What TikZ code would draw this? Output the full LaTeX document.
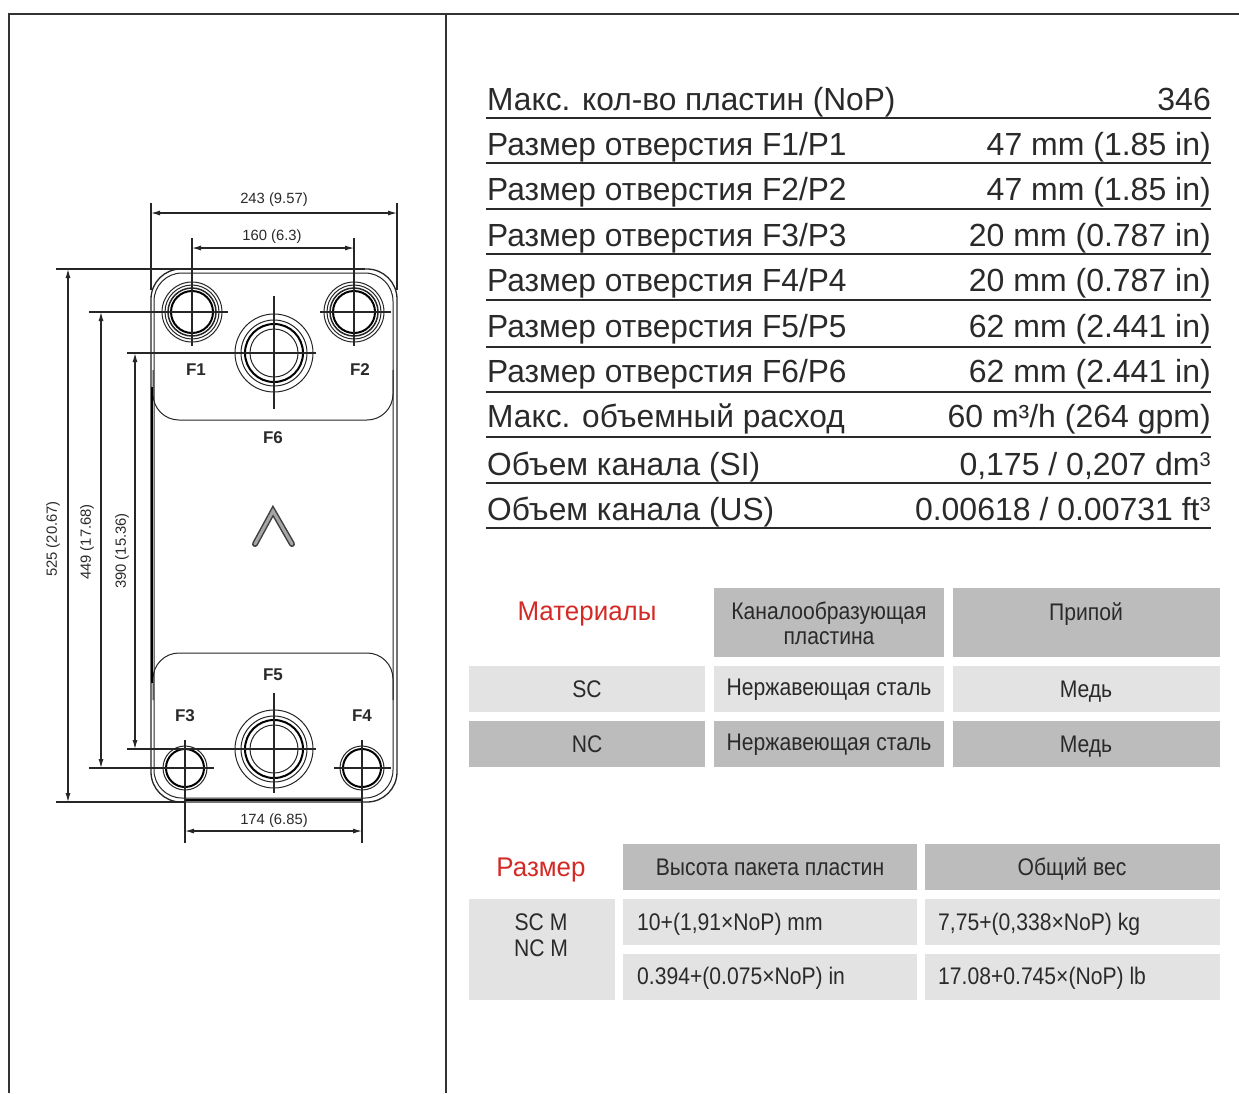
\documentclass[tikz,border=0pt]{standalone}
\usepackage{fontspec}
\usepackage{graphicx}
\setmainfont{Liberation Sans}
\usetikzlibrary{arrows.meta}
\definecolor{ink}{HTML}{2A2A2A}
\definecolor{cellD}{HTML}{BCBCBC}
\definecolor{cellL}{HTML}{E3E3E3}
\definecolor{redt}{HTML}{D42A26}
\newcommand{\nrw}[1]{\scalebox{.88}[1]{#1}}
\newcommand{\nrr}[1]{\scalebox{.96}[1]{#1}}
\newcommand{\spw}[1]{\scalebox{.99}[1]{#1}}
\newcommand{\cub}{\raisebox{9pt}{\fontsize{20}{20}\selectfont 3}}
\tikzset{
 x=1pt,y=-1pt,
 spec/.style={font=\fontsize{32}{32}\selectfont,text=ink,inner sep=0pt,anchor=base west},
 specr/.style={font=\fontsize{32}{32}\selectfont,text=ink,inner sep=0pt,anchor=base east},
 rule/.style={draw=ink,line width=1.8pt},
 frameln/.style={draw=black!80,line width=1.3pt},
 dwg/.style={draw=black!85,line width=1pt},
 dwgt/.style={draw=black,line width=2pt},
 dim/.style={draw=black!85,line width=1.1pt},
 dimarr/.style={dim,{Latex[length=9pt,width=5pt]}-{Latex[length=9pt,width=5pt]}},
 dimtxt/.style={font=\fontsize{14.8}{15}\selectfont,text=ink,inner sep=0pt},
 port/.style={font=\bfseries\fontsize{17}{17}\selectfont,text=ink,inner sep=0pt},
 cell/.style={font=\fontsize{24}{26}\selectfont,text=ink,inner sep=0pt,anchor=base},
 cellw/.style={cell,anchor=base west},
 redcell/.style={cell,text=redt,font=\fontsize{27}{27}\selectfont},
 fillD/.style={fill=cellD,draw=none,inner sep=0,anchor=north west},
 fillL/.style={fill=cellL,draw=none,inner sep=0,anchor=north west},
}
\begin{document}
\begin{tikzpicture}
\useasboundingbox (0,0) rectangle (1239,1093);
\fill[white] (0,0) rectangle (1239,1093);
% frame
\coordinate (fa) at (9,1093); \coordinate (fb) at (9,14); \coordinate (fc) at (1239,14);
\coordinate (fd) at (446,14); \coordinate (fe) at (446,1093);
\draw[frameln] (fa) -- (fb) -- (fc);
\draw[frameln] (fd) -- (fe);
% hole centres
\coordinate (cF1) at (192,312); \coordinate (cF2) at (354,312);
\coordinate (cF6) at (274,353); \coordinate (cF5) at (274,749);
\coordinate (cF3) at (185,768); \coordinate (cF4) at (362,768);
% plate
\draw[dwg,line width=1.3pt,rounded corners=30pt] (151,269) rectangle (397,802);
\draw[dwg,rounded corners=28pt] (154,273) rectangle (393,798);
\draw[dwg,rounded corners=26pt] (153,370) -- (153,420) -- (393,420) -- (393,370);
\draw[dwg,rounded corners=26pt] (153,700) -- (153,653) -- (393,653) -- (393,700);
\draw[dwgt] (152,387) -- (152,683);
\draw[dwgt] (185,800) -- (362,800);
\foreach \c in {cF1,cF2}{
 \draw[dwg] (\c) circle (30) (\c) circle (27);
 \draw[dwg,line width=1.5pt] (\c) circle (24);
 \draw[dwgt] (\c) circle (21);
}
\foreach \c in {cF5,cF6}{
 \draw[dwg] (\c) circle (39) (\c) circle (33) (\c) circle (24);
 \draw[dwgt] (\c) circle (29);
}
\foreach \c in {cF3,cF4}{
 \draw[dwg] (\c) circle (22);
 \draw[dwgt] (\c) circle (19);
}
% chevron
\coordinate (ch1) at (255,544); \coordinate (ch2) at (273,511); \coordinate (ch3) at (292,544);
\draw[black!75,line width=6pt,line join=miter,line cap=round] (ch1) -- (ch2) -- (ch3);
\draw[black!35,line width=3pt,line join=miter,line cap=round] (ch1) -- (ch2) -- (ch3);
% centre marks
\draw[dim] ([xshift=-103pt]cF1) -- ([xshift=36pt]cF1);
\draw[dim] ([xshift=-34pt]cF2) -- ([xshift=37pt]cF2);
\draw[dim] ([xshift=-147pt]cF6) -- ([xshift=42pt]cF6);
\draw[dim] ([xshift=-147pt]cF5) -- ([xshift=42pt]cF5);
\draw[dim] ([xshift=-96pt]cF3) -- ([xshift=29pt]cF3);
\draw[dim] ([xshift=-28pt]cF4) -- ([xshift=29pt]cF4);
\draw[dim] ([yshift=74pt]cF1) -- ([yshift=-34pt]cF1);
\draw[dim] ([yshift=74pt]cF2) -- ([yshift=-34pt]cF2);
\draw[dim] ([yshift=57pt]cF6) -- ([yshift=-56pt]cF6);
\draw[dim] ([yshift=56pt]cF5) -- ([yshift=-44pt]cF5);
\draw[dim] ([yshift=28pt]cF3) -- ([yshift=-75pt]cF3);
\draw[dim] ([yshift=28pt]cF4) -- ([yshift=-75pt]cF4);
% overall dims
\coordinate (w1) at (151,213); \coordinate (w2) at (397,213);
\draw[dim] (151,203) -- (151,290); \draw[dim] (397,203) -- (397,290);
\draw[dimarr] (w1) -- (w2);
\node[dimtxt] (t243) at (274,200) {243 (9.57)};
\coordinate (p1) at (192,248); \coordinate (p2) at (354,248);
\draw[dimarr] (p1) -- (p2);
\node[dimtxt] (t160) at (272,237) {160 (6.3)};
\coordinate (b1) at (185,831); \coordinate (b2) at (362,831);
\draw[dimarr] (b1) -- (b2);
\node[dimtxt] (t174) at (274,821) {174 (6.85)};
\draw[dim] (56,269) -- (365,269); \draw[dim] (56,802) -- (185,802);
\coordinate (h1) at (68,269); \coordinate (h2) at (68,802);
\draw[dimarr] (h1) -- (h2);
\node[dimtxt,rotate=90] (t525) at (53,539) {525 (20.67)};
\coordinate (h3) at (101,312); \coordinate (h4) at (101,768);
\draw[dimarr] (h3) -- (h4);
\node[dimtxt,rotate=90] (t449) at (87,542) {449 (17.68)};
\coordinate (h5) at (135,353); \coordinate (h6) at (135,749);
\draw[dimarr] (h5) -- (h6);
\node[dimtxt,rotate=90] (t390) at (122,551) {390 (15.36)};
% port labels
\node[port] (lF1) at (196,370) {F1};
\node[port] (lF2) at (360,370) {F2};
\node[port] (lF6) at (273,438) {F6};
\node[port] (lF5) at (273,675) {F5};
\node[port] (lF3) at (185,716) {F3};
\node[port] (lF4) at (362,716) {F4};
% spec table
\foreach \n/\yb/\yr/\l/\r in {
 a/110/118/{Макс. кол-во пластин (NoP)}/{346},
 b/155/163/{Размер отверстия F1/P1}/{47 mm (1.85 in)},
 c/200/209/{Размер отверстия F2/P2}/{47 mm (1.85 in)},
 d/246/254/{Размер отверстия F3/P3}/{20 mm (0.787 in)},
 e/291/300/{Размер отверстия F4/P4}/{20 mm (0.787 in)},
 f/337/347/{Размер отверстия F5/P5}/{62 mm (2.441 in)},
 g/382/392/{Размер отверстия F6/P6}/{62 mm (2.441 in)},
 h/427/437/{Макс. объемный расход}/{60 m³/h (264 gpm)},
 i/475/483/{Объем канала (SI)}/{0,175 / 0,207 dm\cub},
 j/520/528/{Объем канала (US)}/{0.00618 / 0.00731 ft\cub}}{
 \node[spec] (l\n) at (487,\yb) {\spw{\l}};
 \node[specr] (r\n) at (1211,\yb) {\r};
 \draw[rule] (486,\yr) -- (1211,\yr);
}
% materials
\node[fillD,minimum width=230pt,minimum height=69pt] (m12) at (714,588) {};
\node[fillD,minimum width=267pt,minimum height=69pt] (m13) at (953,588) {};
\node[fillL,minimum width=236pt,minimum height=46pt] (m21) at (469,666) {};
\node[fillL,minimum width=230pt,minimum height=46pt] (m22) at (714,666) {};
\node[fillL,minimum width=267pt,minimum height=46pt] (m23) at (953,666) {};
\node[fillD,minimum width=236pt,minimum height=46pt] (m31) at (469,721) {};
\node[fillD,minimum width=230pt,minimum height=46pt] (m32) at (714,721) {};
\node[fillD,minimum width=267pt,minimum height=46pt] (m33) at (953,721) {};
\node[redcell] (tmat) at (587,620) {\nrr{Материалы}};
\node[cell] (tk1) at (829,619) {\nrw{Каналообразующая}};
\node[cell] (tk2) at (829,644) {\nrw{пластина}};
\node[cell] (tpr) at (1086,620) {\nrw{Припой}};
\node[cell] (tsc) at (587,697) {\nrw{SC}};
\node[cell] (tn1) at (829,695) {\nrw{Нержавеющая сталь}};
\node[cell] (tm1) at (1086,697) {\nrw{Медь}};
\node[cell] (tnc) at (587,752) {\nrw{NC}};
\node[cell] (tn2) at (829,750) {\nrw{Нержавеющая сталь}};
\node[cell] (tm2) at (1086,752) {\nrw{Медь}};
% size
\node[fillD,minimum width=294pt,minimum height=46pt] (s12) at (623,844) {};
\node[fillD,minimum width=295pt,minimum height=46pt] (s13) at (925,844) {};
\node[fillL,minimum width=146pt,minimum height=101pt] (s21) at (469,899) {};
\node[fillL,minimum width=294pt,minimum height=46pt] (s22) at (623,899) {};
\node[fillL,minimum width=295pt,minimum height=46pt] (s23) at (925,899) {};
\node[fillL,minimum width=294pt,minimum height=46pt] (s32) at (623,954) {};
\node[fillL,minimum width=295pt,minimum height=46pt] (s33) at (925,954) {};
\node[redcell] (tsz) at (541,876) {\nrr{Размер}};
\node[cell] (tvp) at (770,875) {\nrw{Высота пакета пластин}};
\node[cell] (tov) at (1072,875) {\nrw{Общий вес}};
\node[cell] (tscm) at (541,930) {\nrw{SC M}};
\node[cell] (tncm) at (541,956) {\nrw{NC M}};
\node[cellw] (f1) at (637,930) {\nrw{10+(1,91×NoP) mm}};
\node[cellw] (f2) at (938,930) {\nrw{7,75+(0,338×NoP) kg}};
\node[cellw] (f3) at (637,984) {\nrw{0.394+(0.075×NoP) in}};
\node[cellw] (f4) at (938,984) {\nrw{17.08+0.745×(NoP) lb}};
\end{tikzpicture}
\end{document}
